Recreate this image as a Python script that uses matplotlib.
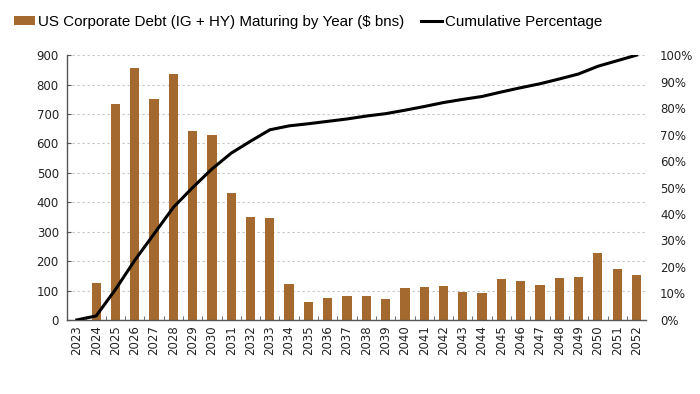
import matplotlib
matplotlib.use("Agg")
import matplotlib.pyplot as plt
from matplotlib.ticker import FuncFormatter, MultipleLocator

years = [str(y) for y in range(2023, 2053)]

# maturing debt, $ bns
debt = [0, 126, 735, 857, 751, 836, 642, 628, 432, 351,
        345, 121, 62, 76, 81, 83, 72, 109, 113, 117,
        96, 90, 138, 131, 120, 143, 146, 228, 174, 153]

# cumulative percentage
cum_pct = [0, 1.5, 11.5, 22.5, 32.5, 42.5, 50.0, 57.0, 63.0, 67.5,
           71.8, 73.3, 74.1, 75.0, 75.9, 77.0, 77.9, 79.2, 80.6, 82.1,
           83.3, 84.4, 86.1, 87.7, 89.2, 91.0, 92.9, 95.8, 97.9, 100.0]

bar_col = "#A4692E"

fig = plt.figure(figsize=(7, 3.94), dpi=100)
ax = fig.add_axes([0.096, 0.188, 0.827, 0.672])
x = range(len(years))

ax.bar(x, debt, width=0.48, color=bar_col, zorder=2, label="US Corporate Debt (IG + HY) Maturing by Year ($ bns)")
ax.set_xlim(-0.5, len(years) - 0.5)
ax.set_ylim(0, 900)
ax.yaxis.set_major_locator(MultipleLocator(100))
ax.grid(axis="y", color="#c4c4c4", linestyle=(0, (2, 2.5)), linewidth=0.8, zorder=0)

ax.set_xticks(list(x))
ax.set_xticklabels(years, rotation=90, fontsize=8.5, color="#222222")
ax.set_xticks([i + 0.5 for i in range(len(years) - 1)], minor=True)
ax.tick_params(axis="x", which="major", length=0, pad=4)
ax.tick_params(axis="x", which="minor", length=3, direction="in", color="#555555")
ax.tick_params(axis="y", labelsize=8.5, length=3, direction="in", color="#555555", labelcolor="#222222", pad=6)

for s in ["top", "right"]:
    ax.spines[s].set_visible(False)
for s in ["left", "bottom"]:
    ax.spines[s].set_color("#555555")
    ax.spines[s].set_linewidth(1.0)

ax2 = ax.twinx()
ax2.plot(x, cum_pct, color="black", linewidth=2.2, zorder=3, label="Cumulative Percentage")
ax2.set_ylim(0, 100)
ax2.yaxis.set_major_locator(MultipleLocator(10))
ax2.yaxis.set_major_formatter(FuncFormatter(lambda v, p: f"{int(v)}%"))
ax2.tick_params(axis="y", labelsize=8.5, length=0, labelcolor="#222222", pad=10)
for s in ["top", "right", "left", "bottom"]:
    ax2.spines[s].set_visible(False)

h1, l1 = ax.get_legend_handles_labels()
h2, l2 = ax2.get_legend_handles_labels()
fig.legend(h1 + h2, l1 + l2, loc="upper left", bbox_to_anchor=(0.005, 0.99), ncol=2,
           frameon=False, prop={"family": "Liberation Sans", "size": 10.9},
           handlelength=1.4, handleheight=0.55,
           handletextpad=0.2, columnspacing=1.1, borderaxespad=0.3)

fig.savefig("out.png", dpi=100)
